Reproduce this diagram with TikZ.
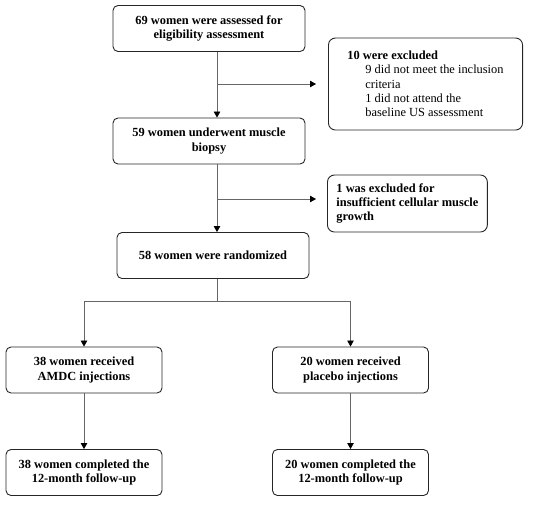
\documentclass[tikz,border=0pt]{standalone}
\usepackage{fontspec}
\setmainfont{Liberation Serif}
\usepackage{xcolor}
\usetikzlibrary{arrows.meta,positioning}

\begin{document}
\begin{tikzpicture}[
    x=1pt, y=-1pt,
    font=\fontsize{12.4}{14.3}\selectfont,
    >={Triangle[length=6pt,width=6.5pt,color=black]},
    flowbox/.style={draw=black!85, line width=0.9pt, rounded corners=5pt, align=center, font=\fontsize{12.4}{14.3}\selectfont\bfseries, minimum width=#1, minimum height=46pt, inner sep=2pt},
    flowbox/.default=192pt,
    exclbox/.style={draw=black!85, line width=0.9pt, rounded corners=7pt, align=left, anchor=west},
    link/.style={draw=black!60, line width=0.8pt},
    arr/.style={link, ->}
  ]
    \useasboundingbox (0,0) rectangle (537,504);

    % main column
    \node[flowbox] (assess) at (209,28.5) {69 women were assessed for\\eligibility assessment};
    \node[flowbox] (biopsy) at (209,141) {59 women underwent muscle\\biopsy};
    \node[flowbox] (random) at (213,255.5) {58 women were randomized};

    % exclusions
    \node[exclbox, inner xsep=19pt, minimum height=92pt] (excl1) at (328,84) {\textbf{10 were excluded}\\
      \hspace*{18pt}9 did not meet the inclusion\\
      \hspace*{18pt}criteria\\
      \hspace*{18pt}1 did not attend the\\
      \hspace*{18pt}baseline US assessment};
    \node[exclbox, inner xsep=9pt, minimum height=57pt, font=\fontsize{12.4}{14.3}\selectfont\bfseries] (excl2) at (327,203.5) {1 was excluded for\\insufficient cellular muscle\\growth};

    % arms
    \node[flowbox=156pt] (amdc) at (84,370) {38 women received\\AMDC injections};
    \node[flowbox=156pt] (plac) at (350.5,370) {20 women received\\placebo injections};
    \node[flowbox=156pt] (amdcfu) at (84,472.5) {38 women completed the\\12-month follow-up};
    \node[flowbox=156pt] (placfu) at (350.5,472.5) {20 women completed the\\12-month follow-up};

    \coordinate (j1) at (217,84);
    \coordinate (j2) at (217,199);
    \coordinate (split) at (217,301);

    \draw[link] (assess.south -| j1) -- (j1);
    \draw[arr] (j1) -- (biopsy.north -| j1);
    \draw[arr, shorten >=12pt] (j1) -- (excl1.west);
    \draw[link] (biopsy.south -| j2) -- (j2);
    \draw[arr] (j2) -- (random.north -| j2);
    \draw[arr, shorten >=11pt] (j2) -- (j2 -| excl2.west);

    \draw[link] (random.south -| split) -- (split);
    \draw[arr] (split) -| (amdc.north);
    \draw[arr] (split) -| (plac.north);
    \draw[arr] (amdc) -- (amdcfu);
    \draw[arr] (plac) -- (placfu);
  \end{tikzpicture}
\end{document}
